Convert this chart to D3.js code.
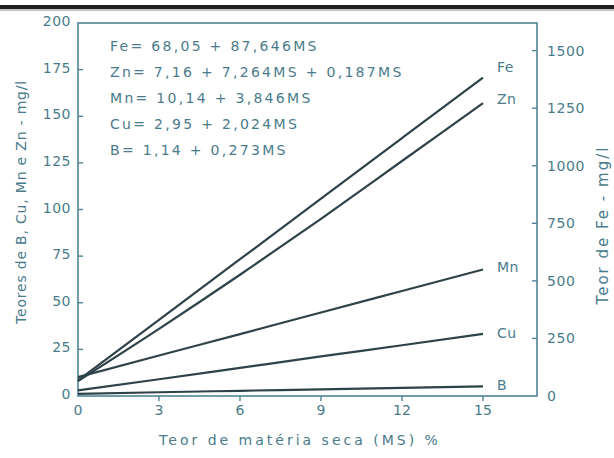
<!DOCTYPE html>
<html>
<head>
<meta charset="utf-8">
<script src="https://cdn.jsdelivr.net/npm/d3@7"></script>
<style>
  body { margin: 0; background: #fff; }
  svg { display: block; }
  text { font-family: "DejaVu Sans", sans-serif; fill: #4a7b8b; }
  .the-frame { fill: none; stroke: #4f8496; stroke-width: 1.6; }
  .the-lines { fill: none; stroke: #2f4249; stroke-width: 2.2; }
  .the-ticks { stroke: #4f8496; stroke-width: 1.4; }
</style>
</head>
<body>
<svg width="614" height="458"></svg>
<script>
// x values (MS %) where the curves were read
const msValues = [0, 3, 6, 9, 12, 15];
// left axis series, mg/l
const znValues = [8, 36, 65, 95, 126, 157];
const mnValues = [10.1, 21.7, 33.2, 44.8, 56.3, 67.8];
const cuValues = [3.0, 9.0, 15.1, 21.2, 27.2, 33.3];
const bValues = [1.1, 2.0, 2.8, 3.6, 4.4, 5.2];
// right axis series, mg/l
const feValues = [68, 331, 594, 857, 1120, 1383];

const xTicks = [0, 3, 6, 9, 12, 15];
const leftTicks = [0, 25, 50, 75, 100, 125, 150, 175, 200];
const rightTicks = [0, 250, 500, 750, 1000, 1250, 1500];
const equations = [
    "Fe= 68,05 + 87,646MS",
    "Zn= 7,16 + 7,264MS + 0,187MS",
    "Mn= 10,14 + 3,846MS",
    "Cu= 2,95 + 2,024MS",
    "B= 1,14 + 0,273MS"
];

const svg = d3.select("svg");
const plotLeft = 78, plotRight = 537, plotTop = 23, plotBottom = 396;

const x = d3.scaleLinear().domain([0, 17]).range([plotLeft, plotRight]);
const yLeft = d3.scaleLinear().domain([0, 200]).range([plotBottom, plotTop]);
const yRight = d3.scaleLinear().domain([0, 1620]).range([plotBottom, plotTop]);

// scan border at the top
svg.append("rect").attr("x", 0).attr("y", 5).attr("width", 614).attr("height", 4).attr("fill", "#1e1e1e");
svg.append("line").attr("x1", 0).attr("x2", 614).attr("y1", 10).attr("y2", 10)
    .attr("stroke", "#8a8a8a").attr("stroke-width", 1);

// frame
svg.append("rect").attr("class", "the-frame")
    .attr("x", plotLeft).attr("y", plotTop)
    .attr("width", plotRight - plotLeft).attr("height", plotBottom - plotTop);

// left axis
let g_left = svg.append("g");
leftTicks.map(t => {
    if (t > 0 && t < 200) {
        g_left.append("line").attr("class", "the-ticks")
            .attr("x1", plotLeft).attr("x2", plotLeft + 5)
            .attr("y1", yLeft(t)).attr("y2", yLeft(t));
    }
    g_left.append("text")
        .attr("x", plotLeft - 7).attr("y", yLeft(t) - 1)
        .attr("text-anchor", "end").attr("dominant-baseline", "middle")
        .attr("font-size", 14).attr("letter-spacing", 0.5)
        .text(t);
});

// right axis
let g_right = svg.append("g");
rightTicks.map(t => {
    if (t > 0) {
        g_right.append("line").attr("class", "the-ticks")
            .attr("x1", plotRight - 5).attr("x2", plotRight)
            .attr("y1", yRight(t)).attr("y2", yRight(t));
    }
    g_right.append("text")
        .attr("x", plotRight + 10).attr("y", yRight(t) + 1)
        .attr("dominant-baseline", "middle")
        .attr("font-size", 14).attr("letter-spacing", 0.6)
        .text(t);
});

// x axis
let g_x = svg.append("g");
xTicks.map(t => {
    if (t > 0) {
        g_x.append("line").attr("class", "the-ticks")
            .attr("x1", x(t)).attr("x2", x(t))
            .attr("y1", plotBottom).attr("y2", plotBottom + 5);
    }
    g_x.append("text")
        .attr("x", x(t)).attr("y", plotBottom + 15)
        .attr("text-anchor", "middle").attr("dominant-baseline", "middle")
        .attr("font-size", 14)
        .text(t);
});

// axis titles
svg.append("text").attr("x", 300).attr("y", 441)
    .attr("text-anchor", "middle").attr("dominant-baseline", "middle")
    .attr("font-size", 14).attr("letter-spacing", 3)
    .text("Teor de matéria seca (MS) %");
svg.append("text").attr("transform", "translate(22,202) rotate(-90)")
    .attr("text-anchor", "middle").attr("dominant-baseline", "middle")
    .attr("font-size", 14).attr("letter-spacing", 0.8)
    .text("Teores de B, Cu, Mn e Zn - mg/l");
svg.append("text").attr("transform", "translate(603,225) rotate(-90)")
    .attr("text-anchor", "middle").attr("dominant-baseline", "middle")
    .attr("font-size", 15).attr("letter-spacing", 2)
    .text("Teor de Fe - mg/l");

// curves
const series = [
    {name: "Fe", values: feValues, scale: yRight, dy: -10},
    {name: "Zn", values: znValues, scale: yLeft, dy: -3},
    {name: "Mn", values: mnValues, scale: yLeft, dy: -2},
    {name: "Cu", values: cuValues, scale: yLeft, dy: 0},
    {name: "B", values: bValues, scale: yLeft, dy: 0}
];
let g_lines = svg.append("g");
series.map(s => {
    const line = d3.line()
        .x((d, i) => x(msValues[i]))
        .y(d => s.scale(d))
        .curve(d3.curveMonotoneX);
    g_lines.append("path").attr("class", "the-lines").attr("d", line(s.values));
    g_lines.append("text")
        .attr("x", x(15) + 14).attr("y", s.scale(s.values[s.values.length - 1]) + s.dy)
        .attr("dominant-baseline", "middle")
        .attr("font-size", 14).attr("letter-spacing", 0.5)
        .text(s.name);
});

// equations
let g_eq = svg.append("g");
equations.map((e, i) => {
    g_eq.append("text")
        .attr("x", 110).attr("y", 46.5 + i * 26.2)
        .attr("dominant-baseline", "middle")
        .attr("font-size", 14).attr("letter-spacing", 2.3)
        .text(e);
});
</script>
</body>
</html>
